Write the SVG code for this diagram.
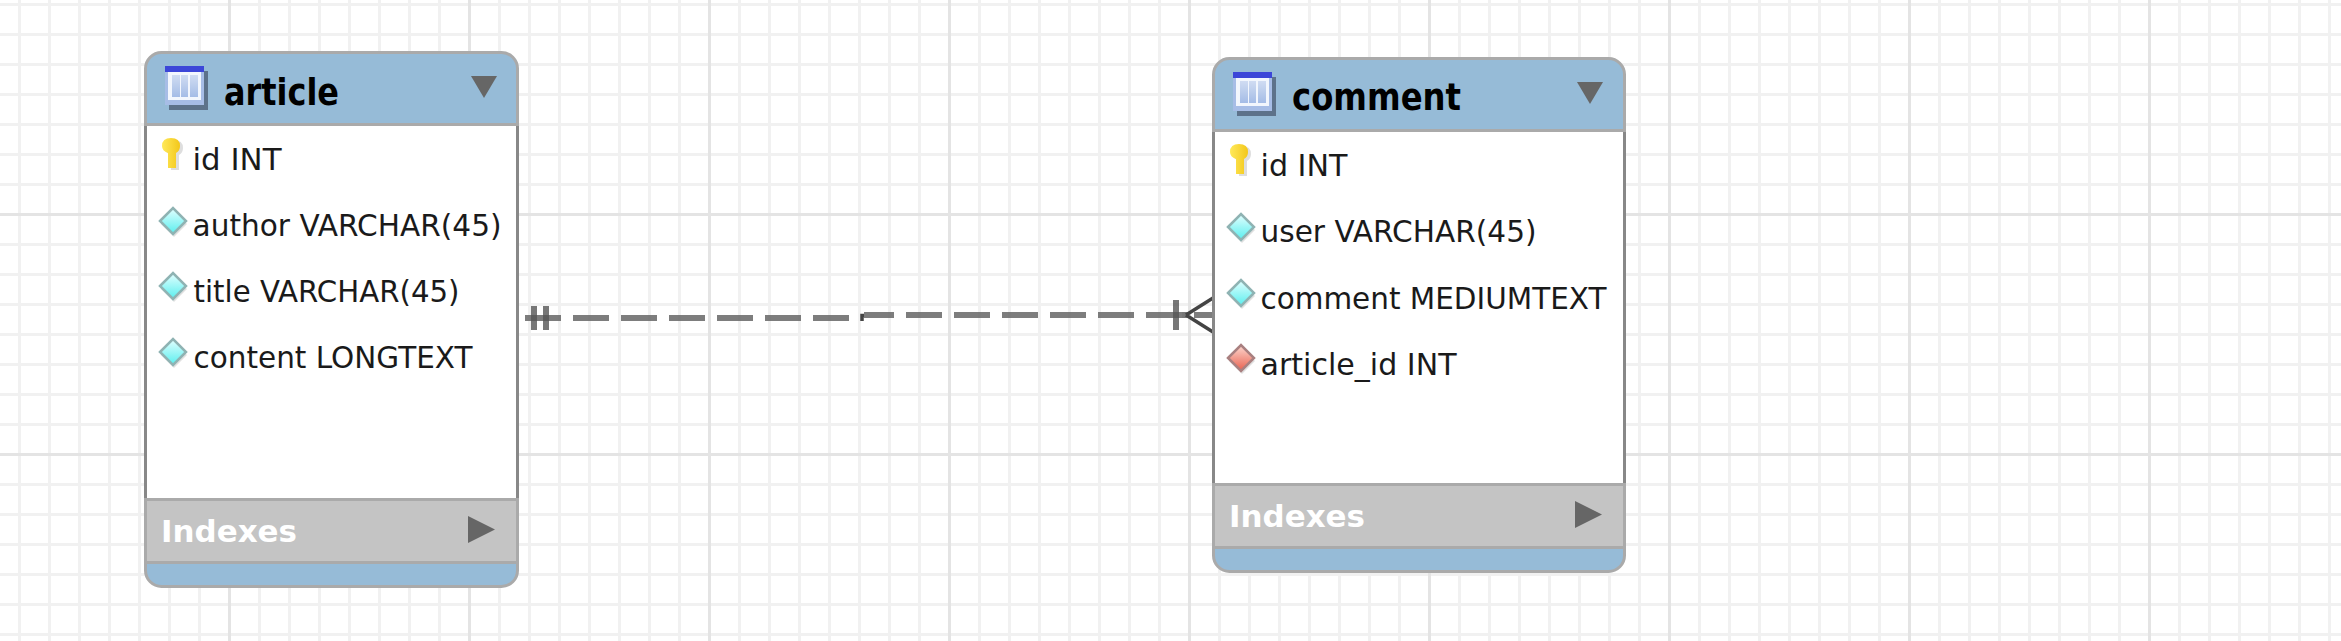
<svg xmlns="http://www.w3.org/2000/svg" width="2341" height="641" viewBox="0 0 2341 641">
<style>
.gm{stroke:#f1f1f1;stroke-width:3;fill:none;shape-rendering:crispEdges}
.gM{stroke:#e4e4e4;stroke-width:3;fill:none;shape-rendering:crispEdges}
.hd{fill:#96bbd7;stroke:#aaaaaa;stroke-width:3}
.bd{fill:#ffffff;stroke:none}
.sd{stroke:#888888;stroke-width:3;fill:none}
.ix{fill:#c4c4c4;stroke:#aaaaaa;stroke-width:3}
.ttl{font-family:"DejaVu Sans",sans-serif;font-weight:700;font-size:38px;fill:#000000}
.col{font-family:"DejaVu Sans",sans-serif;font-size:31px;fill:#1a1a1a}
.idx{font-family:"DejaVu Sans",sans-serif;font-weight:700;font-size:30px;fill:#ffffff}
.tri{fill:#666666;stroke:none}
.dash{stroke:#666666;stroke-opacity:.85;stroke-width:6;fill:none;stroke-dasharray:36 12}
.tick{stroke:#555555;stroke-opacity:.8;stroke-width:6;fill:none}
.foot{stroke:#444444;stroke-width:3.5;fill:none}
</style>
<defs>
<linearGradient id="gc" x1="0" y1="0" x2="0" y2="1"><stop offset="0" stop-color="#e4ffff"/><stop offset="1" stop-color="#58eeee"/></linearGradient>
<linearGradient id="gr" x1="0" y1="0" x2="0" y2="1"><stop offset="0" stop-color="#fdd8d0"/><stop offset="1" stop-color="#e8604e"/></linearGradient>
<linearGradient id="gk" x1="0" y1="0" x2="1" y2="0"><stop offset="0" stop-color="#ffe95a"/><stop offset="1" stop-color="#f3c71a"/></linearGradient>
<linearGradient id="gt" x1="0" y1="0" x2="0" y2="1"><stop offset="0" stop-color="#d0dcf2"/><stop offset="1" stop-color="#a4bce6"/></linearGradient>
<g id="tbl">
<rect x="4" y="5" width="39" height="39" fill="#4a5a70" fill-opacity=".75"/>
<rect x="0" y="0" width="39" height="39" fill="#a7bde6"/>
<rect x="0" y="0" width="39" height="6" fill="#3c46d8"/>
<rect x="3" y="6" width="33" height="28" fill="#f2f6fd"/>
<rect x="7" y="9" width="8" height="22" fill="url(#gt)"/>
<rect x="16" y="9" width="7" height="22" fill="url(#gt)"/>
<rect x="25" y="9" width="8" height="22" fill="url(#gt)"/>
</g>
<g id="key">
<path d="M9 0 Q18 0 18 8 Q18 13 14 15 V30 H6 V15 Q0 13 0 8 Q0 0 9 0 Z" fill="#000000" fill-opacity=".13" transform="translate(3 2)"/>
<path d="M9 0 Q18 0 18 8 Q18 13 14 15 V30 H6 V15 Q0 13 0 8 Q0 0 9 0 Z" fill="url(#gk)"/>
</g>
<g id="dc">
<path d="M1 3 L14 -10 L27 3 L14 16 Z" fill="#000000" fill-opacity=".12"/>
<path d="M0 0 L13 -13 L26 0 L13 13 Z" fill="url(#gc)" stroke="#8fb3b3" stroke-width="2.5"/>
</g>
<g id="dr">
<path d="M1 3 L14 -10 L27 3 L14 16 Z" fill="#000000" fill-opacity=".12"/>
<path d="M0 0 L13 -13 L26 0 L13 13 Z" fill="url(#gr)" stroke="#a98080" stroke-width="2.5"/>
</g>
<path id="tdn" class="tri" d="M0 0 H26 L13 22 Z"/>
<path id="trt" class="tri" d="M0 0 L27 13.5 L0 27 Z"/>
</defs>

<rect width="2341" height="641" fill="#ffffff"/>

<g id="grid">
<path class="gm" d="M19.5 0V641M49.5 0V641M79.5 0V641M109.5 0V641M139.5 0V641M169.5 0V641M199.5 0V641M259.5 0V641M289.5 0V641M319.5 0V641M349.5 0V641M379.5 0V641M409.5 0V641M439.5 0V641M499.5 0V641M529.5 0V641M559.5 0V641M589.5 0V641M619.5 0V641M649.5 0V641M679.5 0V641M739.5 0V641M769.5 0V641M799.5 0V641M829.5 0V641M859.5 0V641M889.5 0V641M919.5 0V641M979.5 0V641M1009.5 0V641M1039.5 0V641M1069.5 0V641M1099.5 0V641M1129.5 0V641M1159.5 0V641M1219.5 0V641M1249.5 0V641M1279.5 0V641M1309.5 0V641M1339.5 0V641M1369.5 0V641M1399.5 0V641M1459.5 0V641M1489.5 0V641M1519.5 0V641M1549.5 0V641M1579.5 0V641M1609.5 0V641M1639.5 0V641M1699.5 0V641M1729.5 0V641M1759.5 0V641M1789.5 0V641M1819.5 0V641M1849.5 0V641M1879.5 0V641M1939.5 0V641M1969.5 0V641M1999.5 0V641M2029.5 0V641M2059.5 0V641M2089.5 0V641M2119.5 0V641M2179.5 0V641M2209.5 0V641M2239.5 0V641M2269.5 0V641M2299.5 0V641M2329.5 0V641"/>
<path class="gm" d="M0 4.5H2341M0 34.5H2341M0 64.5H2341M0 94.5H2341M0 124.5H2341M0 154.5H2341M0 184.5H2341M0 244.5H2341M0 274.5H2341M0 304.5H2341M0 334.5H2341M0 364.5H2341M0 394.5H2341M0 424.5H2341M0 484.5H2341M0 514.5H2341M0 544.5H2341M0 574.5H2341M0 604.5H2341M0 634.5H2341"/>
<path class="gM" d="M229.5 0V641M469.5 0V641M709.5 0V641M949.5 0V641M1189.5 0V641M1429.5 0V641M1669.5 0V641M1909.5 0V641M2149.5 0V641M0 214.5H2341M0 454.5H2341"/>
</g>

<g id="connectors">
<path class="dash" d="M525 318H861"/>
<path class="tick" d="M534 306V330M546 306V330"/>
<path class="foot" d="M864 315.5H862V321"/>
<path class="dash" style="stroke-dashoffset:6" d="M864 315H1213"/>
<path class="tick" d="M1176 300V330"/>
<path class="tick" d="M1182 315H1188"/>
<path class="foot" d="M1186 315L1213 298M1186 315L1213 332"/>
</g>

<g id="article">
<rect class="bd" x="145.5" y="124.5" width="372" height="375"/>
<path class="sd" d="M145.5 124.5V499.5M517.5 124.5V499.5"/>
<path class="hd" d="M145.5 124.5V68.5A16 16 0 0 1 161.500 52.5H501.5A16 16 0 0 1 517.5 68.5V124.5Z"/>
<rect class="ix" x="145.5" y="499.5" width="372" height="63"/>
<path class="hd" d="M145.5 562.5V570.5A16 16 0 0 0 161.5 586.5H501.5A16 16 0 0 0 517.5 570.5V562.5Z"/>
<use href="#tbl" x="165" y="66"/>
<text class="ttl" x="224" y="105" textLength="115" lengthAdjust="spacingAndGlyphs">article</text>
<use href="#tdn" x="471" y="76"/>
<use href="#key" x="162" y="138"/>
<text class="col" x="192.500" y="170" textLength="89" lengthAdjust="spacingAndGlyphs">id INT</text>
<use href="#dc" x="160" y="221"/>
<text class="col" x="192.500" y="236" textLength="309" lengthAdjust="spacingAndGlyphs">author VARCHAR(45)</text>
<use href="#dc" x="160" y="286"/>
<text class="col" x="193.500" y="302" textLength="266" lengthAdjust="spacingAndGlyphs">title VARCHAR(45)</text>
<use href="#dc" x="160" y="352"/>
<text class="col" x="193.500" y="368" textLength="279" lengthAdjust="spacingAndGlyphs">content LONGTEXT</text>
<text class="idx" x="161" y="542" textLength="136" lengthAdjust="spacingAndGlyphs">Indexes</text>
<use href="#trt" x="468" y="516"/>
</g>

<g id="comment">
<rect class="bd" x="1213.5" y="130.5" width="411" height="354"/>
<path class="sd" d="M1213.5 130.5V484.5M1624.5 130.5V484.5"/>
<path class="hd" d="M1213.5 130.5V74.5A16 16 0 0 1 1229.5 58.5H1608.5A16 16 0 0 1 1624.5 74.5V130.5Z"/>
<rect class="ix" x="1213.5" y="484.5" width="411" height="63"/>
<path class="hd" d="M1213.5 547.5V555.5A16 16 0 0 0 1229.5 571.5H1608.5A16 16 0 0 0 1624.5 555.5V547.5Z"/>
<use href="#tbl" x="1233" y="72"/>
<text class="ttl" x="1292" y="110" textLength="169" lengthAdjust="spacingAndGlyphs">comment</text>
<use href="#tdn" x="1577" y="82"/>
<use href="#key" x="1230" y="144"/>
<text class="col" x="1260.500" y="175.500" textLength="87" lengthAdjust="spacingAndGlyphs">id INT</text>
<use href="#dc" x="1228" y="227"/>
<text class="col" x="1260.500" y="241.500" textLength="276" lengthAdjust="spacingAndGlyphs">user VARCHAR(45)</text>
<use href="#dc" x="1228" y="293"/>
<text class="col" x="1260.500" y="308.500" textLength="346" lengthAdjust="spacingAndGlyphs">comment MEDIUMTEXT</text>
<use href="#dr" x="1228" y="358"/>
<text class="col" x="1260.500" y="374.500" textLength="196" lengthAdjust="spacingAndGlyphs">article_id INT</text>
<text class="idx" x="1229" y="527" textLength="136" lengthAdjust="spacingAndGlyphs">Indexes</text>
<use href="#trt" x="1575" y="501"/>
</g>
</svg>
